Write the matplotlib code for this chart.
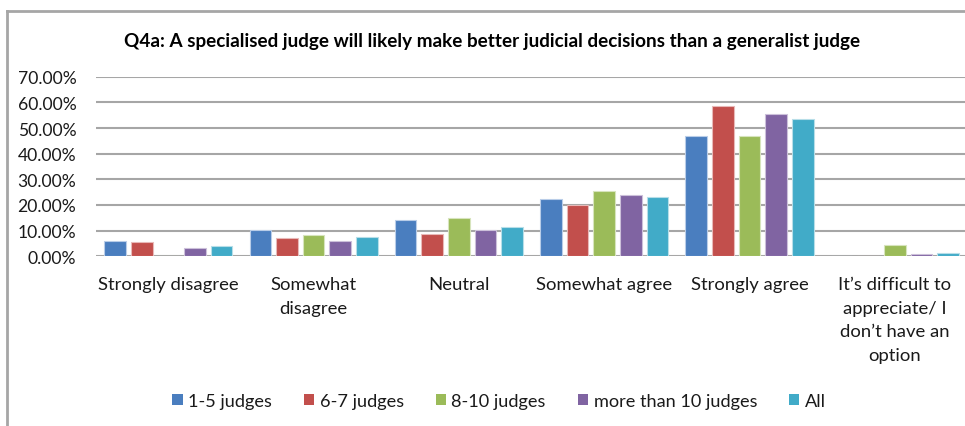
import numpy as np
import matplotlib
matplotlib.use("Agg")
import matplotlib.pyplot as plt
from matplotlib.patches import Patch
from matplotlib.lines import Line2D

plt.rcParams["font.family"] = ["Lato", "DejaVu Sans"]

categories = ["Strongly disagree", "Somewhat\ndisagree", "Neutral", "Somewhat agree",
              "Strongly agree", "It\u2019s difficult to\nappreciate/ I\ndon\u2019t have an\noption"]
series = ["1-5 judges", "6-7 judges", "8-10 judges", "more than 10 judges", "All"]
colors = ["#4A7EBF", "#C24F4C", "#9BBB59", "#8064A2", "#41ABC8"]
edges = ["#B9CDE8", "#E8B9B8", "#D7E4BD", "#CCC0DA", "#B7DEE8"]

judges_1_5 = [6.1, 10.1, 14.3, 22.5, 46.9, 0.0]
judges_6_7 = [5.7, 7.1, 8.6, 20.1, 58.4, 0.0]
judges_8_10 = [0.0, 8.4, 14.8, 25.5, 46.8, 4.3]
judges_10p = [3.4, 6.0, 10.2, 23.9, 55.6, 0.9]
all_resp = [3.9, 7.4, 11.3, 23.0, 53.4, 1.2]
values = [judges_1_5, judges_6_7, judges_8_10, judges_10p, all_resp]

W, H = 965, 427
fig = plt.figure(figsize=(W / 100, H / 100), dpi=100)
ax = fig.add_axes([95.7 / W, 1 - 257.3 / H, 871.8 / W, 179.6 / H])

x = np.arange(len(categories))
stride = 0.1835
for i, (vals, c, e) in enumerate(zip(values, colors, edges)):
    ax.bar(x + (i - 2) * stride, vals, width=0.149, color=c, edgecolor=e,
           linewidth=0.8, zorder=3)

ax.set_xlim(-0.5, len(categories) - 0.5)
ax.set_ylim(0, 70)
ax.set_yticks(np.arange(0, 71, 10))
ax.set_yticklabels([f"{v:.2f}%" for v in np.arange(0, 71, 10)], fontsize=12.6, color="#1a1a1a")
ax.yaxis.grid(True, color="#A6A6A6", linewidth=1.5, zorder=0)
ax.tick_params(axis="y", length=0, pad=14)
ax.set_xticks(x)
ax.set_xticklabels(categories, fontsize=13.3, color="#1a1a1a", linespacing=1.6)
ax.tick_params(axis="x", length=0, pad=14)
for s in ax.spines.values():
    s.set_visible(False)

ax.set_title("Q4a: A specialised judge will likely make better judicial decisions than a generalist judge",
             fontsize=13.6, fontweight="bold", x=(492 - 95.7) / 871.8, pad=22)

handles = [Patch(facecolor=c, edgecolor="none") for c in colors]
fig.legend(handles, series, loc="center", bbox_to_anchor=(499 / W, 1 - 401.7 / H), ncol=5,
           frameon=False, fontsize=13.1, handlelength=0.57, handleheight=0.57,
           handletextpad=0.3, columnspacing=1.75, labelcolor="#1a1a1a")

# chart frame
fig.add_artist(Line2D([7 / W, 7 / W], [0, 1 - 11.5 / H], color="#A6A6A6", linewidth=2))
fig.add_artist(Line2D([7 / W, 1], [1 - 11.5 / H, 1 - 11.5 / H], color="#A6A6A6", linewidth=2))

fig.savefig("out.png", dpi=100)
